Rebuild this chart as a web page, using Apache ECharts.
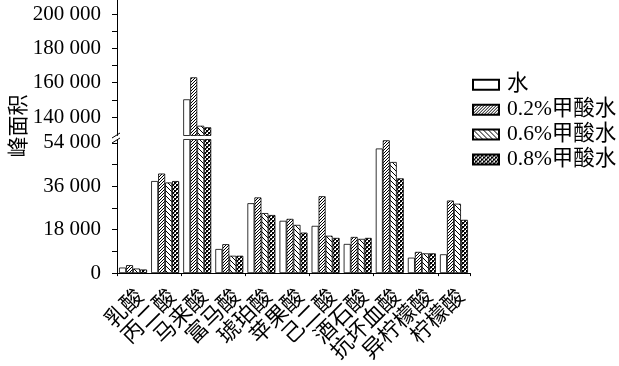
<!DOCTYPE html>
<html><head><meta charset="utf-8">
<script src="https://cdn.jsdelivr.net/npm/echarts@6/dist/echarts.min.js"></script>
<style>html,body{margin:0;padding:0;background:#fff}#c{width:619px;height:366px}</style>
</head><body><div id="c"></div>
<script>
const categories = ['乳酸','丙二酸','马来酸','富马酸','琥珀酸','苹果酸','己二酸','酒石酸','抗坏血酸','异柠檬酸','柠檬酸'];
const seriesNames = ['水','0.2%甲酸水','0.6%甲酸水','0.8%甲酸水'];
const water = [2300, 38200, 150300, 10000, 29000, 21700, 19600, 12100, 51700, 6400, 7800];
const fa02  = [3300, 41300, 163100, 12000, 31400, 22500, 31900, 15000, 55100, 8800, 30100];
const fa06  = [1900, 37600, 134900, 7200, 24900, 20000, 15500, 14200, 46100, 8200, 28800];
const fa08  = [1500, 38200, 134000, 7200, 24100, 16800, 14600, 14600, 39300, 8200, 22100];
const lowerLabels = [0, 18000, 36000, 54000];
const lowerTicks = [0, 9000, 18000, 27000, 36000, 45000, 54000];
const upperLabels = [140000, 160000, 180000, 200000];
const upperTicks = [140000, 150000, 160000, 170000, 180000, 190000, 200000];
const yName = '峰面积';

const FONT = '"Liberation Serif", "Noto Sans CJK SC", serif';

function makePattern(kind) {
  const size = kind === 'slash' ? 3 : kind === 'back' ? 5 : 4;
  const cv = document.createElement('canvas');
  cv.width = size; cv.height = size;
  const ctx = cv.getContext('2d');
  ctx.fillStyle = '#fff';
  ctx.fillRect(0, 0, size, size);
  ctx.fillStyle = '#000';
  if (kind === 'slash') {
    for (let i = 0; i < size; i++) ctx.fillRect(size - 1 - i, i, 1, 1);
  } else if (kind === 'back') {
    for (let i = 0; i < size; i++) ctx.fillRect(i, i, 1, 1);
  } else {
    ctx.fillRect(0, 0, 2, 2);
    ctx.fillRect(2, 2, 2, 2);
    ctx.fillStyle = '#555';
    ctx.fillRect(2, 0, 1, 1);
    ctx.fillRect(0, 2, 1, 1);
  }
  return { image: cv, repeat: 'repeat' };
}

const fills = ['#ffffff', makePattern('slash'), makePattern('back'), makePattern('check')];
const values = [water, fa02, fa06, fa08];

function fmt(v) {
  return String(v).replace(/\B(?=(\d{3})+(?!\d))/g, ' ');
}

const series = [];
for (let g = 0; g < 2; g++) {
  seriesNames.forEach((name, i) => {
    series.push({
      name: name,
      type: 'bar',
      xAxisIndex: g === 0 ? 0 : 2,
      yAxisIndex: g,
      data: values[i],
      barWidth: 7,
      barGap: '0%',
      clip: true,
      itemStyle: { color: fills[i], borderColor: '#000', borderWidth: 0.8 },
      emphasis: { disabled: true }
    });
  });
}

const axisLineStyle = { color: '#000', width: 1 };
const chart = echarts.init(document.getElementById('c'), null, { renderer: 'canvas' });
chart.setOption({
  animation: false,
  backgroundColor: '#fff',
  grid: [
    { left: 117, right: 149, top: 139.5, bottom: 91 },
    { left: 117, right: 149, top: 0, height: 135.5 }
  ],
  legend: {
    data: seriesNames,
    orient: 'vertical',
    left: 472, top: 74, padding: 0,
    itemWidth: 26, itemHeight: 10, itemGap: 3.4,
    icon: 'rect',
    textStyle: { fontSize: 21.5, fontFamily: FONT, color: '#000', lineHeight: 20, padding: [0, 0, 0, 3] }
  },
  xAxis: [
    {
      gridIndex: 0, type: 'category', data: categories,
      axisLine: { lineStyle: axisLineStyle },
      axisTick: { alignWithLabel: true, length: 7, lineStyle: axisLineStyle },
      axisLabel: { rotate: 45, margin: 13, verticalAlign: 'top', fontSize: 22, fontFamily: FONT, color: '#000', interval: 0 }
    },
    {
      gridIndex: 0, type: 'category', data: categories, position: 'bottom',
      axisLine: { show: false },
      axisTick: { show: true, length: 3, lineStyle: axisLineStyle },
      axisLabel: { show: false }
    },
    { gridIndex: 1, type: 'category', data: categories, show: false }
  ],
  yAxis: [
    {
      gridIndex: 0, type: 'value', min: 0, max: 55430,
      axisLine: { show: true, lineStyle: axisLineStyle },
      axisTick: { show: true, length: 5, lineStyle: axisLineStyle, customValues: lowerTicks },
      axisLabel: { customValues: lowerLabels, formatter: fmt, margin: 16, fontSize: 21, fontFamily: FONT, color: '#000' },
      splitLine: { show: false }
    },
    {
      gridIndex: 1, type: 'value', min: 129224, max: 208155,
      axisLine: { show: true, lineStyle: axisLineStyle },
      axisTick: { show: true, length: 5, lineStyle: axisLineStyle, customValues: upperTicks },
      axisLabel: { customValues: upperLabels, formatter: fmt, margin: 16, fontSize: 21, fontFamily: FONT, color: '#000' },
      splitLine: { show: false }
    }
  ],
  graphic: [
    { type: 'line', shape: { x1: 112, y1: 138, x2: 120, y2: 133 }, style: { stroke: '#000', lineWidth: 1 } },
    { type: 'line', shape: { x1: 112, y1: 143, x2: 120, y2: 138 }, style: { stroke: '#000', lineWidth: 1 } },
    { type: 'text', x: 17, y: 126, rotation: Math.PI / 2,
      style: { text: yName, font: '21px "Noto Sans CJK SC"', fill: '#000', align: 'center', verticalAlign: 'middle' } }
  ],
  series: series
});
</script>
</body></html>
